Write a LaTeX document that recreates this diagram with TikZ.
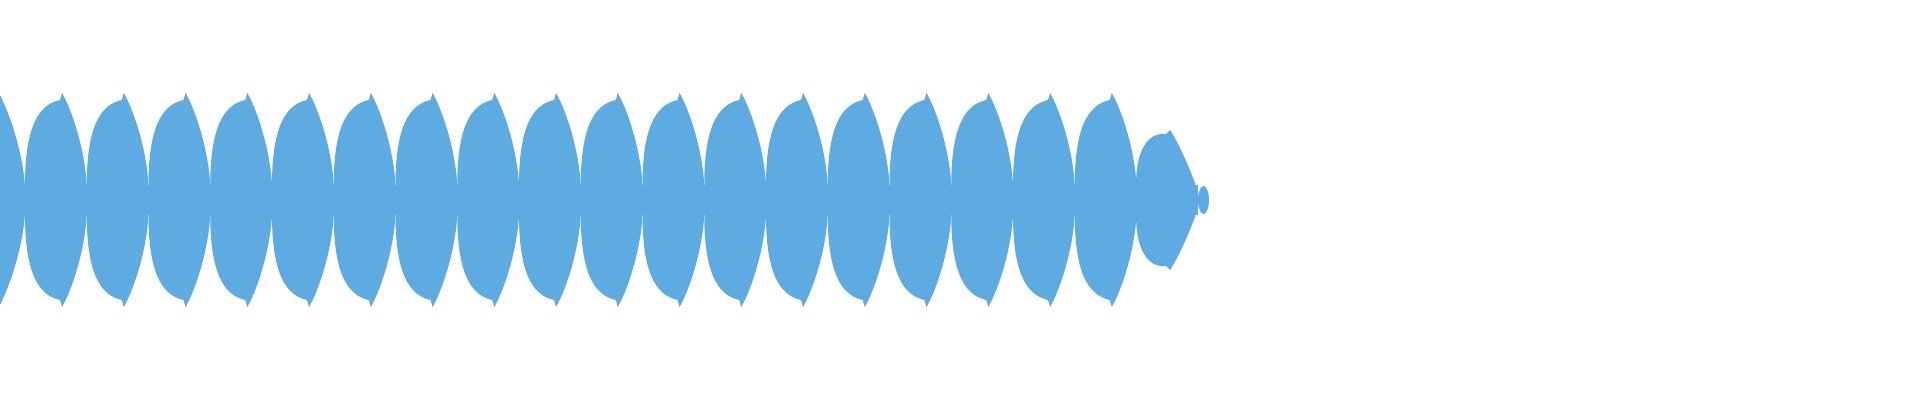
\documentclass[tikz,border=0pt]{standalone}
\definecolor{wave}{HTML}{5DABE0}
\begin{document}
\begin{tikzpicture}[x=0.5pt,y=-0.5pt]
\useasboundingbox (0,0) rectangle (1920,400);
\fill[wave] (0,185) rectangle (1198,215);
\fill[wave] (0,95) .. controls (10,115) and (22,150) .. (25,185) -- (25,215) .. controls (22,250) and (10,285) .. (0,305) -- cycle;
\foreach \k in {0,...,17}{
  \pgfmathsetmacro{\a}{25+61.75*\k}
  \begin{scope}[shift={(\a,200)}]
    \fill[wave] (0,-15) .. controls (0,-70) and (12,-95) .. (35,-100) -- (37,-107)
      .. controls (47,-90) and (60,-50) .. (61.75,-15) -- (61.75,15)
      .. controls (60,50) and (47,90) .. (37,107) -- (35,100)
      .. controls (12,95) and (0,70) .. (0,15) -- cycle;
  \end{scope}
}
\begin{scope}[shift={(1136,200)}]
  \fill[wave] (0,-15) .. controls (0,-50) and (12,-68) .. (30,-66) -- (34,-70)
    .. controls (42,-58) and (55,-30) .. (62,-8) -- (62,8)
    .. controls (55,30) and (42,58) .. (34,70) -- (30,66)
    .. controls (12,68) and (0,50) .. (0,15) -- cycle;
\end{scope}
\fill[wave] (1203.5,200) ellipse [x radius=5.5,y radius=14];
\end{tikzpicture}
\end{document}
